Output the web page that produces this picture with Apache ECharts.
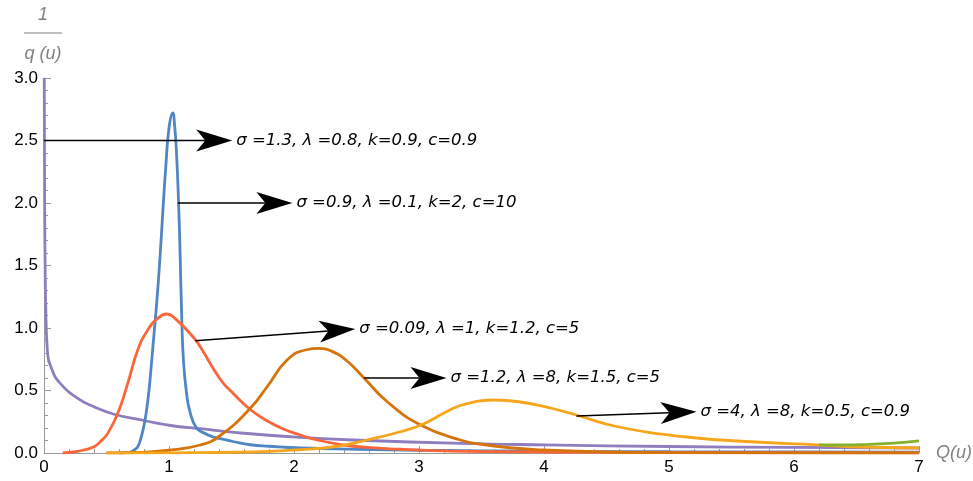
<!DOCTYPE html>
<html>
<head>
<meta charset="utf-8">
<script src="https://cdn.jsdelivr.net/npm/echarts@6/dist/echarts.min.js"></script>
<style>html,body{margin:0;padding:0;background:#fff}#c{width:973px;height:481px}</style>
</head>
<body>
<div id="c"></div>
<script>
// ---- tick labels ----
const xTicks = ['0', '1', '2', '3', '4', '5', '6', '7'];
const yTicks = ['0.0', '0.5', '1.0', '1.5', '2.0', '2.5', '3.0'];

// ---- series (x, y) ----
const blueX = [0.60, 0.68, 0.73, 0.75, 0.77, 0.80, 0.82, 0.84, 0.86, 0.88, 0.90, 0.925, 0.95, 0.975, 1.0, 1.03, 1.045, 1.06, 1.076, 1.09, 1.10, 1.115, 1.14, 1.17, 1.22, 1.28, 1.35, 1.41, 1.52, 1.65, 1.8, 2.05, 2.5, 3.0, 4.0, 5.0, 6.0, 7.0];
const blueY = [0.0, 0.005, 0.03, 0.05, 0.10, 0.22, 0.34, 0.50, 0.72, 0.95, 1.18, 1.52, 1.92, 2.3, 2.6, 2.72, 2.62, 2.4, 2.02, 1.55, 1.15, 0.75, 0.48, 0.32, 0.2, 0.16, 0.13, 0.115, 0.09, 0.066, 0.054, 0.04, 0.03, 0.022, 0.014, 0.01, 0.008, 0.006];

const redX = [0.15, 0.25, 0.32, 0.40, 0.45, 0.51, 0.59, 0.67, 0.75, 0.83, 0.91, 0.983, 1.05, 1.2, 1.25, 1.41, 1.52, 1.645, 1.78, 1.92, 2.05, 2.185, 2.4, 2.585, 2.85, 3.12, 3.5, 4.0, 5.0, 6.0, 7.0];
const redY = [0.0, 0.01, 0.025, 0.05, 0.09, 0.157, 0.317, 0.557, 0.824, 0.984, 1.077, 1.112, 1.075, 0.92, 0.85, 0.59, 0.47, 0.352, 0.26, 0.19, 0.144, 0.104, 0.064, 0.045, 0.03, 0.019, 0.012, 0.008, 0.004, 0.002, 0.001];

const darkX = [0.5, 0.75, 0.98, 1.25, 1.41, 1.645, 1.785, 1.945, 2.1, 2.2, 2.3, 2.42, 2.56, 2.746, 3.013, 3.33, 3.5, 3.75, 4.0, 4.5, 5.0, 6.0, 7.0];
const darkY = [0.0, 0.005, 0.02, 0.064, 0.14, 0.352, 0.53, 0.744, 0.826, 0.837, 0.815, 0.74, 0.60, 0.41, 0.224, 0.104, 0.07, 0.04, 0.024, 0.008, 0.003, 0.001, 0.0];

const yellowX = [0.5, 1.0, 1.5, 1.8, 2.0, 2.32, 2.585, 2.85, 3.03, 3.2, 3.33, 3.45, 3.6, 3.8, 4.05, 4.27, 4.59, 5.12, 5.66, 6.19, 6.46, 7.0];
const yellowY = [0.0, 0.001, 0.006, 0.013, 0.024, 0.05, 0.104, 0.17, 0.23, 0.32, 0.38, 0.41, 0.424, 0.41, 0.36, 0.30, 0.21, 0.13, 0.09, 0.065, 0.05, 0.04];

const greenX = [6.2, 6.4, 6.6, 6.8, 7.0];
const greenY = [0.065, 0.064, 0.069, 0.079, 0.097];

const purpleX = [0.002, 0.005, 0.009, 0.013, 0.027, 0.067, 0.13, 0.27, 0.40, 0.56, 0.80, 1.04, 1.25, 1.52, 2.05, 2.58, 3.33, 4.0, 5.0, 6.0, 7.0];
const purpleY = [3.0, 2.0, 1.5, 1.22, 0.82, 0.66, 0.557, 0.437, 0.37, 0.31, 0.26, 0.216, 0.195, 0.165, 0.125, 0.10, 0.077, 0.065, 0.052, 0.045, 0.04];

// ---- annotation arrows: start, tip, text ----
const arrowFrom = [[0, 2.5], [1.07, 2.0], [1.21, 0.898], [2.56, 0.60], [4.26, 0.296]];
const arrowTo = [[1.506, 2.5], [1.987, 2.0], [2.49, 0.992], [3.22, 0.60], [5.22, 0.33]];
const arrowText = [
  'σ =1.3, λ =0.8, k=0.9, c=0.9',
  'σ =0.9, λ =0.1, k=2, c=10',
  'σ =0.09, λ =1, k=1.2, c=5',
  'σ =1.2, λ =8, k=1.5, c=5',
  'σ =4, λ =8, k=0.5, c=0.9'
];

const colors = {
  blue: '#4F86C3', red: '#FA663A', dark: '#D6740C',
  yellow: '#F6A61C', green: '#86B22B', purple: '#8E7DBF'
};

function pts(xs, ys) { return xs.map((x, i) => [x, ys[i]]); }
function curve(name, xs, ys, color) {
  return {
    name, type: 'line', data: pts(xs, ys), showSymbol: false, symbol: 'none',
    smooth: 0.5,
    lineStyle: { color, width: 2.8 }, itemStyle: { color }, silent: true
  };
}

const chart = echarts.init(document.getElementById('c'), null, { renderer: 'canvas' });
const axisGrey = '#9a9a9a';
const labelFont = 'Liberation Sans, Arial, sans-serif';

chart.setOption({
  animation: false,
  grid: { left: 44, right: 54, top: 78, bottom: 28, containLabel: false, outerBoundsMode: 'none' },
  xAxis: {
    type: 'value', min: 0, max: 7, interval: 1,
    axisLine: { show: true, lineStyle: { color: axisGrey, width: 1 } },
    axisTick: { show: true, inside: true, length: 7, lineStyle: { color: axisGrey } },
    minorTick: { show: true, splitNumber: 5, length: 4, lineStyle: { color: axisGrey } },
    splitLine: { show: false },
    axisLabel: { color: '#000', fontSize: 17, fontFamily: labelFont, margin: 6,
      formatter: v => xTicks[Math.round(v)] },
    name: 'Q(u)', nameLocation: 'end', nameGap: 17,
    nameTextStyle: { color: '#808080', fontSize: 18, fontStyle: 'italic', fontFamily: labelFont, verticalAlign: 'middle', align: 'left' }
  },
  yAxis: {
    type: 'value', min: 0, max: 3, interval: 0.5,
    axisLine: { show: true, lineStyle: { color: axisGrey, width: 1 } },
    axisTick: { show: true, inside: true, length: 7, lineStyle: { color: axisGrey } },
    minorTick: { show: true, splitNumber: 5, length: 4, lineStyle: { color: axisGrey } },
    splitLine: { show: false },
    axisLabel: { color: '#000', fontSize: 17, fontFamily: labelFont, margin: 6,
      formatter: v => yTicks[Math.round(v * 2)] }
  },
  graphic: [
    { type: 'text', style: { text: '1', x: 43, y: 15, align: 'center', verticalAlign: 'middle', fill: '#808080', font: 'italic 18px Liberation Sans, Arial, sans-serif' }, z: 10 },
    { type: 'line', shape: { x1: 24, y1: 33, x2: 62, y2: 33 }, style: { stroke: '#808080', lineWidth: 1.2 }, z: 10 },
    { type: 'text', style: { text: 'q (u)', x: 43, y: 54, align: 'center', verticalAlign: 'middle', fill: '#808080', font: 'italic 18px Liberation Sans, Arial, sans-serif' }, z: 10 }
  ],
  series: [
    curve('purple', purpleX, purpleY, colors.purple),
    curve('blue', blueX, blueY, colors.blue),
    curve('red', redX, redY, colors.red),
    curve('dark', darkX, darkY, colors.dark),
    curve('yellow', yellowX, yellowY, colors.yellow),
    curve('green', greenX, greenY, colors.green),
    {
      type: 'custom', clip: false, silent: true, z: 20,
      data: arrowFrom.map((f, i) => [f[0], f[1], arrowTo[i][0], arrowTo[i][1], i]),
      encode: { x: [0, 2], y: [1, 3] },
      renderItem: function (params, api) {
        const a = api.coord([api.value(0), api.value(1)]);
        const t = api.coord([api.value(2), api.value(3)]);
        const idx = api.value(4);
        const dx = t[0] - a[0], dy = t[1] - a[1];
        const len = Math.sqrt(dx * dx + dy * dy);
        const ux = dx / len, uy = dy / len;
        const nx = -uy, ny = ux;
        const L = 36, W = 11, N = 9;
        const bx = t[0] - L * ux, by = t[1] - L * uy;
        const notch = [t[0] - (L - N) * ux, t[1] - (L - N) * uy];
        return {
          type: 'group',
          children: [
            { type: 'line', shape: { x1: a[0], y1: a[1], x2: notch[0], y2: notch[1] },
              style: { stroke: '#000', lineWidth: 1.5 } },
            { type: 'polygon', shape: { points: [t, [bx + W * nx, by + W * ny], notch, [bx - W * nx, by - W * ny]] },
              style: { fill: '#000' } },
            { type: 'text', style: { text: arrowText[idx], x: t[0] + 4, y: t[1], align: 'left', verticalAlign: 'middle',
              fill: '#000', font: 'italic 16.5px DejaVu Sans, sans-serif' } }
          ]
        };
      }
    }
  ]
});
</script>
</body>
</html>
